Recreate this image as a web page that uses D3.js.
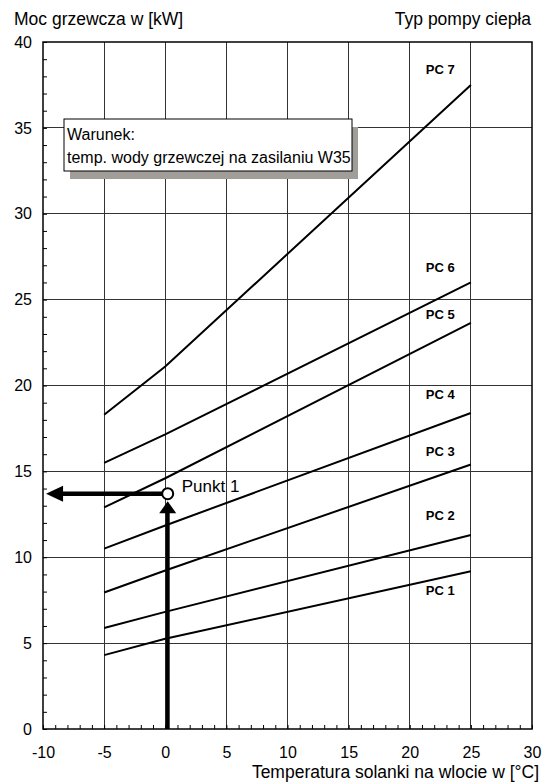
<!DOCTYPE html>
<html>
<head>
<meta charset="utf-8">
<script src="https://cdn.jsdelivr.net/npm/d3@7/dist/d3.min.js"></script>
<style>
  html, body { margin: 0; padding: 0; background: #fff; }
  svg { display: block; font-family: "Liberation Sans", Arial, Helvetica, sans-serif; }
</style>
</head>
<body>
<svg id="chart" width="544" height="782"></svg>
<script>
// Brine inlet temperature [°C] at the curve break points
const brineTemps = [-5, 0, 25];
// Heating capacity [kW] of each heat pump type at those temperatures (W35)
const pc1 = [4.3, 5.25, 9.18];
const pc2 = [5.88, 6.82, 11.3];
const pc3 = [7.95, 9.23, 15.4];
const pc4 = [10.5, 11.85, 18.4];
const pc5 = [12.9, 14.6, 23.65];
const pc6 = [15.5, 17.15, 26.0];
const pc7 = [18.3, 21.1, 37.5];
const pumpNames = ["PC 1", "PC 2", "PC 3", "PC 4", "PC 5", "PC 6", "PC 7"];
// Where each pump-type label sits on the capacity axis [kW]
const labelKW = [8.05, 12.46, 16.18, 19.46, 24.16, 26.86, 38.4];
const labelTemp = 22.5;

const xTicks = [-10, -5, 0, 5, 10, 15, 20, 25, 30];
const yTicks = [0, 5, 10, 15, 20, 25, 30, 35, 40];

// Example operating point
const pointTemp = 0.2;
const pointKW = 13.7;
const pointName = "Punkt 1";

const series = [pc1, pc2, pc3, pc4, pc5, pc6, pc7];

const W = 544, H = 782;
const margin = { left: 43, right: 12, top: 42, bottom: 53 };
const svg = d3.select("#chart");

const x = d3.scaleLinear().domain([-10, 30]).range([margin.left, W - margin.right]);
const y = d3.scaleLinear().domain([0, 40]).range([H - margin.bottom, margin.top]);

// Grid
const grid = svg.append("g").attr("stroke", "#333").attr("stroke-width", 1).attr("shape-rendering", "crispEdges");
grid.selectAll("line.v").data(xTicks.slice(1, -1)).join("line")
  .attr("x1", d => x(d)).attr("x2", d => x(d)).attr("y1", y(0)).attr("y2", y(40));
grid.selectAll("line.h").data(yTicks.slice(1, -1)).join("line")
  .attr("x1", x(-10)).attr("x2", x(30)).attr("y1", d => y(d)).attr("y2", d => y(d));

// Minor ticks (every 1 unit) pointing inward
svg.append("g").attr("transform", `translate(0,${y(0)})`)
  .call(d3.axisBottom(x).ticks(40).tickSize(-4).tickFormat(""))
  .call(g => g.select(".domain").remove())
  .call(g => g.selectAll("line").attr("stroke", "#000"));
svg.append("g").attr("transform", `translate(${x(-10)},0)`)
  .call(d3.axisLeft(y).ticks(40).tickSize(-4).tickFormat(""))
  .call(g => g.select(".domain").remove())
  .call(g => g.selectAll("line").attr("stroke", "#000"));

// Frame
svg.append("rect")
  .attr("x", x(-10)).attr("y", y(40))
  .attr("width", x(30) - x(-10)).attr("height", y(0) - y(40))
  .attr("fill", "none").attr("stroke", "#000").attr("stroke-width", 1.5);

// Tick labels (plain hyphen for negatives)
const plain = d => String(d);
svg.append("g").attr("transform", `translate(0,${y(0) + 29})`)
  .call(d3.axisBottom(x).tickValues(xTicks).tickSize(0).tickPadding(0).tickFormat(plain))
  .call(g => g.select(".domain").remove())
  .call(g => g.selectAll("text").attr("font-size", 16).attr("font-family", null).attr("fill", "#000").attr("dy", null));
svg.append("g").attr("transform", `translate(${x(-10) - 11},0)`)
  .call(d3.axisLeft(y).tickValues(yTicks).tickSize(0).tickPadding(0).tickFormat(plain))
  .call(g => g.select(".domain").remove())
  .call(g => g.selectAll("text").attr("font-size", 16).attr("font-family", null).attr("fill", "#000"));

// Axis titles
svg.append("text").attr("x", 14).attr("y", 25).attr("font-size", 17.5).text("Moc grzewcza w [kW]");
svg.append("text").attr("x", x(30) - 1).attr("y", 25).attr("font-size", 17.5).attr("text-anchor", "end").text("Typ pompy ciepła");
svg.append("text").attr("x", W - 5).attr("y", H - 4).attr("font-size", 17.5).attr("text-anchor", "end")
  .text("Temperatura solanki na wlocie w [°C]");

// Condition box with shadow
const bx = 64, by = 119, bw = 288, bh = 52;
svg.append("rect").attr("x", bx + 6).attr("y", by + 8).attr("width", bw).attr("height", bh).attr("fill", "#a19d99");
svg.append("rect").attr("x", bx).attr("y", by).attr("width", bw).attr("height", bh)
  .attr("fill", "#fff").attr("stroke", "#000").attr("stroke-width", 1);
const boxText = svg.append("text").attr("font-size", 16);
boxText.append("tspan").attr("x", bx + 3).attr("y", by + 21).text("Warunek:");
boxText.append("tspan").attr("x", bx + 3).attr("y", by + 44).text("temp. wody grzewczej na zasilaniu W35");

// Capacity curves
const line = d3.line().x(d => x(d[0])).y(d => y(d[1]));
svg.append("g").selectAll("path").data(series).join("path")
  .attr("d", s => line(brineTemps.map((t, i) => [t, s[i]])))
  .attr("fill", "none").attr("stroke", "#000").attr("stroke-width", 2);

// Curve labels
svg.append("g").selectAll("text").data(pumpNames).join("text")
  .attr("x", x(labelTemp)).attr("y", (d, i) => y(labelKW[i]))
  .attr("dy", "0.35em").attr("text-anchor", "middle")
  .attr("font-size", 13).attr("font-weight", "bold").text(d => d);

// Reading arrows for the operating point
const px = x(pointTemp), py = y(pointKW);
const leftTip = x(-9.75);
svg.append("line").attr("x1", px).attr("x2", leftTip + 14).attr("y1", py).attr("y2", py)
  .attr("stroke", "#000").attr("stroke-width", 4.5);
svg.append("path")
  .attr("d", `M${leftTip},${py} L${leftTip + 17},${py - 8} L${leftTip + 17},${py + 8} Z`)
  .attr("fill", "#000");
const upTip = py + 7.5;
svg.append("line").attr("x1", px).attr("x2", px).attr("y1", y(0)).attr("y2", upTip + 10)
  .attr("stroke", "#000").attr("stroke-width", 4);
svg.append("path")
  .attr("d", `M${px},${upTip} L${px - 8.5},${upTip + 12} L${px + 8.5},${upTip + 12} Z`)
  .attr("fill", "#000");
svg.append("circle").attr("cx", px).attr("cy", py).attr("r", 5.5)
  .attr("fill", "#fff").attr("stroke", "#000").attr("stroke-width", 2);
svg.append("text").attr("x", px + 14).attr("y", py - 2).attr("font-size", 17).text(pointName);
</script>
</body>
</html>
